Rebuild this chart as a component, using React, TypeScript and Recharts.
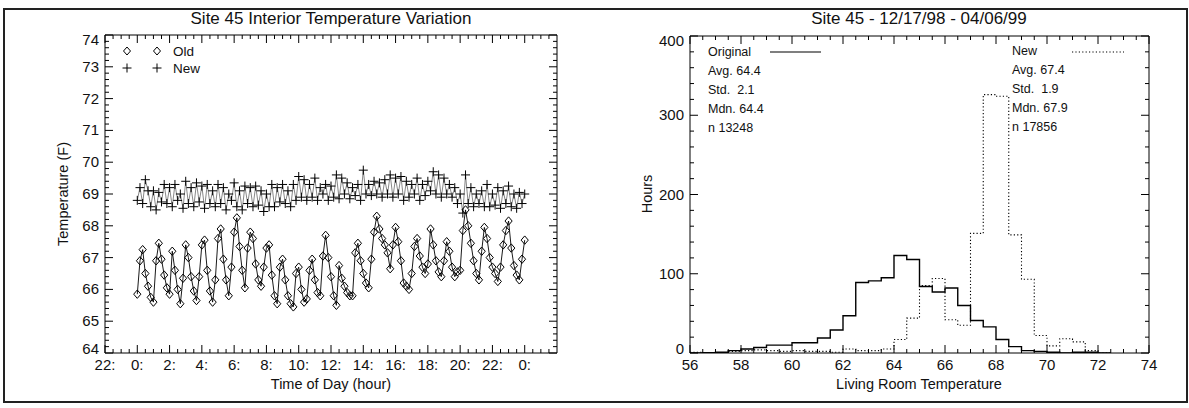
import React from 'react';
import { LineChart, Line, XAxis, YAxis } from 'recharts';

const FONT = "'Liberation Sans', Arial, Helvetica, sans-serif";

// ---------- Left chart: time of day ----------
const START_HOUR = 0;
const STEP_HOURS = 1 / 6; // 10-minute samples

const OLD_TEMPS = [
  65.85, 66.9, 67.25, 66.5, 66.1, 65.75, 65.6, 66.9, 67.45, 66.95, 66.45, 66.05,
  65.85, 67.2, 66.6, 66.0, 65.55, 66.35, 67.4, 67.0, 66.4, 65.95, 65.65, 66.4,
  67.4, 67.55, 66.6, 65.95, 65.6, 66.3, 67.6, 67.9, 66.95, 66.3, 65.8, 66.7,
  67.8, 68.25, 67.35, 66.6, 66.05, 67.3, 67.8, 67.6, 66.8, 66.3, 66.1, 66.7,
  67.3, 67.4, 66.45, 65.8, 65.55, 66.7, 66.95, 66.3, 65.8, 65.55, 65.45, 66.5,
  66.7, 66.0, 65.6, 65.7, 66.6, 66.95, 66.3, 65.9, 65.8, 67.05, 67.7, 67.0,
  66.4, 65.8, 65.5, 66.75, 66.35, 66.1, 65.9, 65.8, 65.8, 67.15, 67.45, 66.9,
  66.5, 66.2, 66.05, 66.95, 67.8, 68.3, 67.9, 67.6, 67.4, 67.15, 66.65, 67.4,
  67.95, 67.5, 66.9, 66.2, 66.1, 66.0, 66.5, 67.35, 67.6, 67.05, 66.7, 66.5,
  66.8, 67.9, 67.4, 66.9, 66.55, 66.4, 66.9, 67.5, 67.2, 66.7, 66.4, 66.55,
  66.6, 67.85, 68.5, 68.0, 67.45, 66.9, 66.5, 66.3, 67.2, 67.95, 67.6, 67.0,
  66.7, 66.5, 66.25, 66.7, 67.4, 67.85, 68.15, 67.3, 66.75, 66.45, 66.3, 66.95,
  67.55,
];

const NEW_TEMPS = [
  68.8, 69.2, 68.7, 69.45, 69.1, 68.6, 69.1, 68.5, 69.05, 68.75, 69.3, 68.7,
  69.2, 68.6, 69.3, 68.8, 69.0, 68.55, 69.4, 68.7, 69.2, 68.6, 69.35, 68.75,
  69.25, 68.55, 69.3, 68.7, 69.1, 68.6, 69.3, 68.7, 69.2, 68.5, 69.0, 68.8,
  69.35, 68.6, 69.1, 68.5, 69.25, 68.7, 69.2, 68.6, 69.25, 68.65, 69.1, 68.45,
  69.0, 68.6, 69.3, 68.6, 69.2, 68.75, 69.3, 68.7, 69.1, 68.6, 69.3, 68.8,
  69.55, 68.9, 69.45, 68.8, 69.3, 68.9, 69.5, 68.8, 69.2, 69.0, 69.3, 68.8,
  69.25, 68.9, 69.6, 68.85, 69.5, 69.0, 69.35, 68.85, 69.2, 68.95, 69.3, 68.8,
  69.75, 69.0, 69.3, 68.95, 69.4, 69.0, 69.35, 68.9, 69.45, 69.0, 69.6, 68.9,
  69.5, 69.0, 69.55, 68.8, 69.4, 68.9, 69.3, 69.0, 69.5, 68.8, 69.3, 68.95,
  69.4, 69.1, 69.7, 69.0, 69.6, 68.9, 69.5, 69.0, 69.3, 68.9, 69.2, 68.7,
  69.0, 68.4, 69.6, 68.7, 69.2, 68.6, 69.0, 68.7, 69.1, 68.6, 69.3, 68.6,
  69.0, 68.65, 69.2, 68.55, 69.1, 68.7, 69.25, 68.6, 69.0, 68.55, 69.05, 68.7,
  69.0,
];

const HOUR_TICKS = [-2, 0, 2, 4, 6, 8, 10, 12, 14, 16, 18, 20, 22, 24];
const HOUR_MINOR_TICKS = [-1.5, -1, -0.5, 0.5, 1, 1.5, 2.5, 3, 3.5, 4.5, 5, 5.5, 6.5, 7, 7.5, 8.5, 9, 9.5, 10.5, 11, 11.5,
  12.5, 13, 13.5, 14.5, 15, 15.5, 16.5, 17, 17.5, 18.5, 19, 19.5, 20.5, 21, 21.5, 22.5, 23, 23.5, 24.5, 25, 25.5];
const TEMP_TICKS = [64, 65, 66, 67, 68, 69, 70, 71, 72, 73, 74];
const TEMP_MINOR_TICKS = [64.2, 64.4, 64.6, 64.8, 65.2, 65.4, 65.6, 65.8, 66.2, 66.4, 66.6, 66.8, 67.2, 67.4, 67.6, 67.8,
  68.2, 68.4, 68.6, 68.8, 69.2, 69.4, 69.6, 69.8, 70.2, 70.4, 70.6, 70.8, 71.2, 71.4, 71.6, 71.8, 72.2, 72.4, 72.6, 72.8,
  73.2, 73.4, 73.6, 73.8];

// ---------- Right chart: histogram ----------
const BIN_STARTS = [56, 56.5, 57, 57.5, 58, 58.5, 59, 59.5, 60, 60.5, 61, 61.5, 62, 62.5, 63, 63.5, 64, 64.5,
  65, 65.5, 66, 66.5, 67, 67.5, 68, 68.5, 69, 69.5, 70, 70.5, 71, 71.5, 72, 72.5];
const ORIGINAL_HOURS = [0, 0.5, 1, 3, 5, 7, 10, 10, 13, 13, 19, 29, 47, 89, 91, 95, 123, 118,
  84, 77, 82, 60, 41, 33, 17, 8, 3, 2, 1, 0, 1, 1, 0, 0];
const NEW_HOURS = [1, 0, 0, 2, 3, 4, 3, 2, 3, 2, 2, 1, 5, 3, 3, 5, 17, 44,
  85, 94, 42, 35, 151, 326, 324, 149, 93, 22, 9, 18, 14, 3, 0, 0];
const TEMP_X_TICKS = [56, 58, 60, 62, 64, 66, 68, 70, 72, 74];
const TEMP_X_MINOR = [56.5, 57, 57.5, 58.5, 59, 59.5, 60.5, 61, 61.5, 62.5, 63, 63.5, 64.5, 65, 65.5, 66.5, 67, 67.5,
  68.5, 69, 69.5, 70.5, 71, 71.5, 72.5, 73, 73.5];
const HOURS_TICKS = [0, 100, 200, 300, 400];
const HOURS_MINOR = [20, 40, 60, 80, 120, 140, 160, 180, 220, 240, 260, 280, 320, 340, 360, 380];

const timeData = OLD_TEMPS.map((v, i) => ({ hour: START_HOUR + i * STEP_HOURS, old: v, neu: NEW_TEMPS[i] }));
const histData = BIN_STARTS.map((b, i) => ({ t: b, orig: ORIGINAL_HOURS[i], neu: NEW_HOURS[i] }));

const LABEL_SIZE = 15;
const MAJOR_LEN = 8;
const MINOR_LEN = 4;

type Side = 'bottom' | 'top' | 'left' | 'right';

const makeTick = (side: Side, majors: number[], fmt?: (v: number) => string) => (props: any) => {
  const { x, y, payload, index } = props;
  const v = payload.value as number;
  const isMajor = majors.some((m) => Math.abs(m - v) < 1e-6);
  const len = isMajor ? MAJOR_LEN : MINOR_LEN;
  let line = null as any;
  let label = null as any;
  if (side === 'bottom') {
    line = <line x1={x} y1={y} x2={x} y2={y - len} stroke="#000" strokeWidth={1} />;
    if (isMajor && fmt) label = <text x={x} y={y + 17} textAnchor="middle" fontSize={LABEL_SIZE} fontFamily={FONT} fill="#111">{fmt(v)}</text>;
  } else if (side === 'top') {
    line = <line x1={x} y1={y} x2={x} y2={y + len} stroke="#000" strokeWidth={1} />;
  } else if (side === 'left') {
    line = <line x1={x} y1={y} x2={x + len} y2={y} stroke="#000" strokeWidth={1} />;
    // IDL-style: end labels are kept inside the axis span
    const lo = majors[0];
    const hi = majors[majors.length - 1];
    const shift = Math.abs(v - hi) < 1e-6 ? 5 : Math.abs(v - lo) < 1e-6 ? -4 : 0;
    if (isMajor && fmt) label = <text x={x - 6} y={y + 5 + shift} textAnchor="end" fontSize={LABEL_SIZE} fontFamily={FONT} fill="#111">{fmt(v)}</text>;
  } else {
    line = <line x1={x} y1={y} x2={x - len} y2={y} stroke="#000" strokeWidth={1} />;
  }
  return (
    <g key={`${side}-${index}`}>
      {line}
      {label}
    </g>
  );
};

const Diamond = (props: any) => {
  const { cx, cy, index } = props;
  if (cx == null || cy == null) return <g key={`d${index}`} />;
  return (
    <path key={`d${index}`} d={`M${cx},${cy - 4.2}L${cx + 3.6},${cy}L${cx},${cy + 4.2}L${cx - 3.6},${cy}Z`}
      fill="none" stroke="#000" strokeWidth={1} />
  );
};

const Plus = (props: any) => {
  const { cx, cy, index } = props;
  if (cx == null || cy == null) return <g key={`p${index}`} />;
  return (
    <path key={`p${index}`} d={`M${cx - 4.5},${cy}H${cx + 4.5}M${cx},${cy - 4.5}V${cy + 4.5}`}
      stroke="#000" strokeWidth={1} fill="none" />
  );
};

const hourFmt = (v: number) => `${((v % 24) + 24) % 24}:`;
const numFmt = (v: number) => `${v}`;

const HOUR_ALL = [...HOUR_TICKS, ...HOUR_MINOR_TICKS].sort((a, b) => a - b);
const TEMP_ALL = [...TEMP_TICKS, ...TEMP_MINOR_TICKS].sort((a, b) => a - b);
const TX_ALL = [...TEMP_X_TICKS, ...TEMP_X_MINOR].sort((a, b) => a - b);
const HRS_ALL = [...HOURS_TICKS, ...HOURS_MINOR].sort((a, b) => a - b);

const axisCommon = {
  type: 'number' as const,
  tickSize: 0,
  tickMargin: 0,
  tickLine: false,
  stroke: '#000',
  allowDataOverflow: true,
  interval: 0 as const,
};

function LeftChart() {
  return (
    <LineChart width={600} height={408} data={timeData} margin={{ top: 34, right: 42, bottom: 54, left: 104 }}>
      <XAxis xAxisId="xb" orientation="bottom" dataKey="hour" domain={[-2, 26]} ticks={HOUR_ALL} height={1}
        tick={makeTick('bottom', HOUR_TICKS, hourFmt)} {...axisCommon} />
      <XAxis xAxisId="xt" orientation="top" dataKey="hour" domain={[-2, 26]} ticks={HOUR_ALL} height={1}
        tick={makeTick('top', HOUR_TICKS)} {...axisCommon} />
      <YAxis yAxisId="yl" orientation="left" domain={[64, 74]} ticks={TEMP_ALL} width={1}
        tick={makeTick('left', TEMP_TICKS, numFmt)} {...axisCommon} />
      <YAxis yAxisId="yr" orientation="right" domain={[64, 74]} ticks={TEMP_ALL} width={1}
        tick={makeTick('right', TEMP_TICKS)} {...axisCommon} />
      <Line xAxisId="xb" yAxisId="yl" dataKey="neu" stroke="#555" strokeWidth={0.7} dot={Plus}
        isAnimationActive={false} />
      <Line xAxisId="xb" yAxisId="yl" dataKey="old" stroke="#000" strokeWidth={0.9} dot={Diamond}
        isAnimationActive={false} />
    </LineChart>
  );
}

function RightChart() {
  return (
    <LineChart width={594} height={408} data={histData} margin={{ top: 35, right: 39, bottom: 54, left: 94 }}>
      <XAxis xAxisId="xb" orientation="bottom" dataKey="t" domain={[56, 74]} ticks={TX_ALL} height={1}
        tick={makeTick('bottom', TEMP_X_TICKS, numFmt)} {...axisCommon} />
      <XAxis xAxisId="xt" orientation="top" dataKey="t" domain={[56, 74]} ticks={TX_ALL} height={1}
        tick={makeTick('top', TEMP_X_TICKS)} {...axisCommon} />
      <YAxis yAxisId="yl" orientation="left" domain={[0, 400]} ticks={HRS_ALL} width={1}
        tick={makeTick('left', HOURS_TICKS, numFmt)} {...axisCommon} />
      <YAxis yAxisId="yr" orientation="right" domain={[0, 400]} ticks={HRS_ALL} width={1}
        tick={makeTick('right', HOURS_TICKS)} {...axisCommon} />
      <Line xAxisId="xb" yAxisId="yl" type="stepAfter" dataKey="neu" stroke="#000" strokeWidth={1.1}
        strokeDasharray="1.2 2.2" dot={false} isAnimationActive={false} />
      <Line xAxisId="xb" yAxisId="yl" type="stepAfter" dataKey="orig" stroke="#000" strokeWidth={1.4}
        dot={false} isAnimationActive={false} />
    </LineChart>
  );
}

function Overlay() {
  const t = { fontFamily: FONT, fill: '#111' } as const;
  return (
    <svg width={1189} height={408} style={{ position: 'absolute', left: 0, top: 0, pointerEvents: 'none' }}>
      {/* left panel texts */}
      <text x={331} y={24} textAnchor="middle" fontSize={17} {...t}>Site 45 Interior Temperature Variation</text>
      <text x={331} y={389} textAnchor="middle" fontSize={14.5} {...t}>Time of Day (hour)</text>
      <text transform="translate(68,194) rotate(-90)" textAnchor="middle" fontSize={14.5} {...t}>Temperature (F)</text>
      <path d="M127,47L130.5,51L127,55L123.5,51Z M157,47L160.5,51L157,55L153.5,51Z" fill="none" stroke="#000" strokeWidth={1} />
      <text x={173} y={55.5} fontSize={13.5} {...t}>Old</text>
      <path d="M122.5,68H131.5M127,63.5V72.5 M152.5,68H161.5M157,63.5V72.5" stroke="#000" strokeWidth={1} />
      <text x={173} y={72.5} fontSize={13.5} {...t}>New</text>

      {/* right panel texts */}
      <text x={919} y={24} textAnchor="middle" fontSize={17} {...t}>Site 45 - 12/17/98 - 04/06/99</text>
      <text x={919} y={389} textAnchor="middle" fontSize={14.5} {...t}>Living Room Temperature</text>
      <text transform="translate(652,194) rotate(-90)" textAnchor="middle" fontSize={14.5} {...t}>Hours</text>

      <text x={708} y={56} fontSize={12.5} {...t}>Original</text>
      <line x1={770} y1={52} x2={821} y2={52} stroke="#000" strokeWidth={1.2} />
      <text x={708} y={75} fontSize={12.5} {...t}>Avg. 64.4</text>
      <text x={708} y={94} fontSize={12.5} {...t} xmlSpace="preserve">Std.  2.1</text>
      <text x={708} y={113} fontSize={12.5} {...t}>Mdn. 64.4</text>
      <text x={708} y={132} fontSize={12.5} {...t}>n 13248</text>

      <text x={1012} y={55} fontSize={12.5} {...t}>New</text>
      <line x1={1072} y1={52} x2={1124} y2={52} stroke="#000" strokeWidth={1.1} strokeDasharray="1.2 2.2" />
      <text x={1012} y={74} fontSize={12.5} {...t}>Avg. 67.4</text>
      <text x={1012} y={93} fontSize={12.5} {...t} xmlSpace="preserve">Std.  1.9</text>
      <text x={1012} y={112} fontSize={12.5} {...t}>Mdn. 67.9</text>
      <text x={1012} y={131} fontSize={12.5} {...t}>n 17856</text>
    </svg>
  );
}

export default function App() {
  return (
    <div style={{ position: 'absolute', left: 0, top: 0, width: 1189, height: 408, background: '#fff', fontFamily: FONT }}>
      <div style={{ position: 'absolute', left: 3, top: 8, width: 1181, height: 391, border: '2px solid #222' }} />
      <div style={{ position: 'absolute', left: 0, top: 0 }}>
        <LeftChart />
      </div>
      <div style={{ position: 'absolute', left: 595, top: 0 }}>
        <RightChart />
      </div>
      <Overlay />
    </div>
  );
}
